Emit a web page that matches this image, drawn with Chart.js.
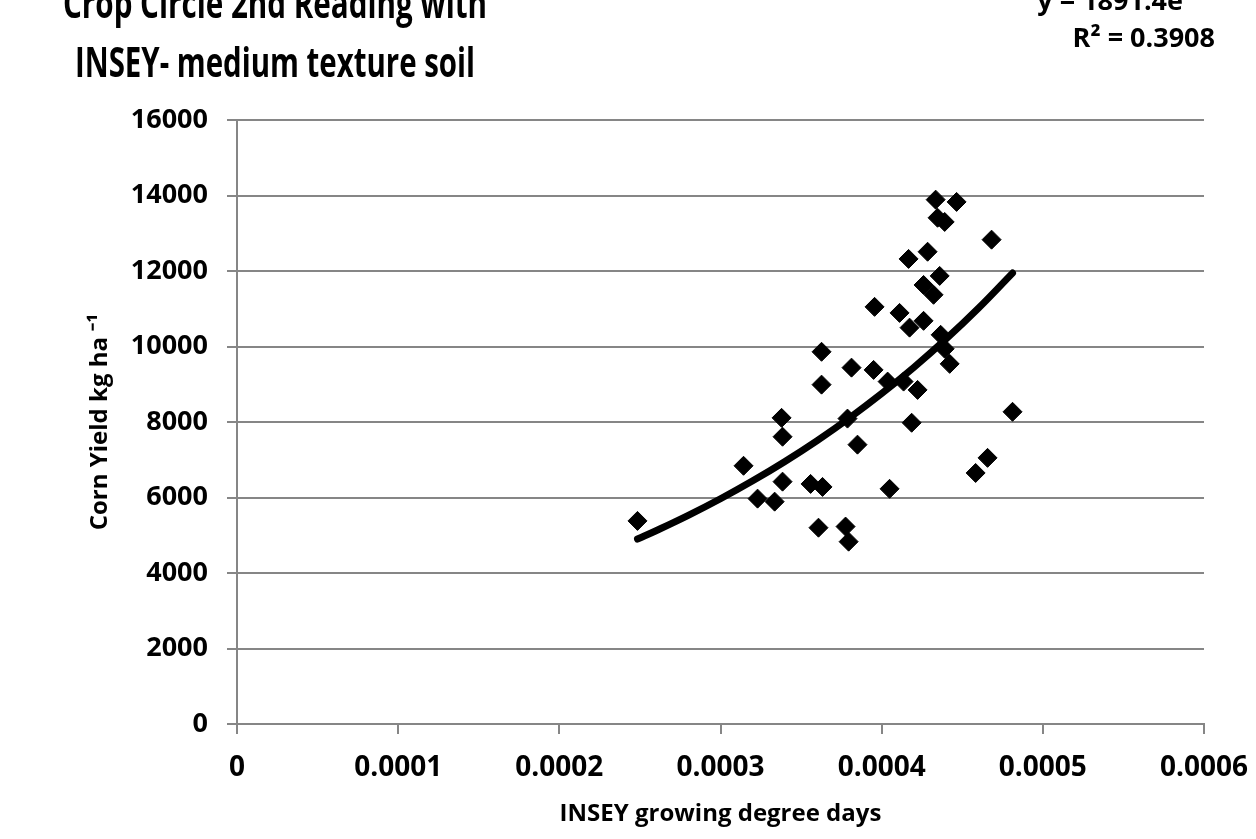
<!DOCTYPE html>
<html>
<head>
<meta charset="utf-8">
<script src="https://cdn.jsdelivr.net/npm/chart.js@4/dist/chart.umd.min.js"></script>
<style>
    html, body { margin: 0; padding: 0; background: #fff; }
</style>
</head>
<body>
<canvas id="myChart" width="1256" height="839"></canvas>
<script>
// values
const insey = [
    0.0002485, 0.0003143, 0.000323, 0.0003336, 0.0003379, 0.0003385, 0.0003385,
    0.0003559, 0.0003608, 0.0003627, 0.0003627, 0.0003633, 0.0003776, 0.0003795,
    0.0003788, 0.0003813, 0.000385, 0.000395, 0.0003956, 0.0004037, 0.0004049,
    0.0004111, 0.0004136, 0.0004167, 0.0004173, 0.0004186, 0.0004223, 0.000426,
    0.000426, 0.0004285, 0.0004322, 0.0004335, 0.0004347, 0.000436, 0.0004366,
    0.0004391, 0.0004391, 0.0004422, 0.0004465, 0.0004583, 0.0004657, 0.0004682,
    0.0004812
];
const cornYield = [
    5380, 6840, 5970, 5890, 8110, 7610, 6420,
    6360, 5200, 9860, 8990, 6280, 5230, 4830,
    8090, 9440, 7400, 9380, 11050, 9070, 6230,
    10890, 9070, 12320, 10500, 7980, 8850, 10680,
    11630, 12510, 11370, 13890, 13410, 11870, 10310,
    13300, 9940, 9540, 13830, 6650, 7050, 12830,
    8270
];

// exponential trendline y = a * e^(b x), drawn over the data range
const trendA = 1891.4;
const trendB = 3830;
const trendX = [0.0002485, 0.00026, 0.00028, 0.0003, 0.00032, 0.00034, 0.00036,
    0.00038, 0.0004, 0.00042, 0.00044, 0.00046, 0.0004812];

const yTicks = [0, 2000, 4000, 6000, 8000, 10000, 12000, 14000, 16000];
const xTicks = [0, 0.0001, 0.0002, 0.0003, 0.0004, 0.0005, 0.0006];

const titleLines = ["Crop Circle 2nd Reading with", "INSEY- medium texture soil"];
const eqLines = ["y = 1891.4e", "R\u00b2 = 0.3908"];

const gridGray = "#868686";
const fontName = '"Open Sans", "Liberation Sans", sans-serif';

const points = insey.map((x, i) => ({ x: x, y: cornYield[i] }));
const trend = trendX.map(x => ({ x: x, y: trendA * Math.exp(trendB * x) }));

const textPlugin = {
    id: "texts",
    afterDraw(chart) {
        const ctx = chart.ctx;
        ctx.save();
        ctx.fillStyle = "#000";
        ctx.textBaseline = "alphabetic";

        ctx.font = "bold 41px " + fontName;
        ctx.textAlign = "center";
        ctx.fillText(titleLines[0], 275, 18, 424);
        ctx.fillText(titleLines[1], 275, 77, 400);

        ctx.font = "bold 27px " + fontName;
        ctx.textAlign = "right";
        ctx.fillText(eqLines[0], 1183, 10);
        ctx.fillText(eqLines[1], 1215, 47);
        ctx.restore();
    }
};

const chart = document.getElementById("myChart");

new Chart(chart, {
    type: "scatter",
    data: {
        datasets: [
            {
                label: "Corn yield",
                data: points,
                pointStyle: "rectRot",
                pointRadius: 9.5,
                pointBackgroundColor: "#000",
                pointBorderColor: "#000",
                pointBorderWidth: 1,
            },
            {
                type: "line",
                label: "Expon. trend",
                data: trend,
                borderColor: "#000",
                borderWidth: 7,
                borderCapStyle: "round",
                pointRadius: 0,
                tension: 0.4,
                fill: false,
            }
        ]
    },
    options: {
        responsive: false,
        devicePixelRatio: 1,
        animation: false,
        layout: {
            padding: { top: 120, right: 52, left: 0, bottom: 0 }
        },
        plugins: {
            legend: { display: false },
            tooltip: { enabled: false },
        },
        scales: {
            x: {
                type: "linear",
                min: xTicks[0],
                max: xTicks[xTicks.length - 1],
                afterBuildTicks: s => { s.ticks = xTicks.map(v => ({ value: v })); },
                afterFit: s => {
                    s.height = 115;
                    s.paddingLeft = 0;
                    s.paddingRight = 0;
                },
                ticks: {
                    callback: v => parseFloat(v.toFixed(4)).toString(),
                    color: "#000",
                    font: { family: fontName, size: 28, weight: "bold" },
                    padding: 17,
                    maxRotation: 0,
                },
                grid: {
                    drawOnChartArea: false,
                    drawTicks: true,
                    tickLength: 10,
                    color: gridGray,
                    lineWidth: 2,
                },
                border: { color: gridGray, width: 2 },
                title: {
                    display: true,
                    text: "INSEY growing degree days",
                    color: "#000",
                    font: { family: fontName, size: 24, weight: "bold" },
                    padding: { top: 10, bottom: 10 },
                },
            },
            y: {
                min: yTicks[0],
                max: yTicks[yTicks.length - 1],
                afterBuildTicks: s => { s.ticks = yTicks.map(v => ({ value: v })); },
                afterFit: s => { s.width = 237; },
                ticks: {
                    callback: v => String(v),
                    color: "#000",
                    font: { family: fontName, size: 27, weight: "bold" },
                    padding: 19,
                },
                grid: {
                    tickLength: 10,
                    color: gridGray,
                    lineWidth: 2,
                },
                border: { color: gridGray, width: 2 },
                title: {
                    display: true,
                    text: "Corn Yield kg ha \u207b\u00b9",
                    color: "#000",
                    font: { family: fontName, size: 24, weight: "bold" },
                    padding: { top: 86, bottom: 86 },
                },
            },
        },
    },
    plugins: [textPlugin],
});
</script>
</body>
</html>
